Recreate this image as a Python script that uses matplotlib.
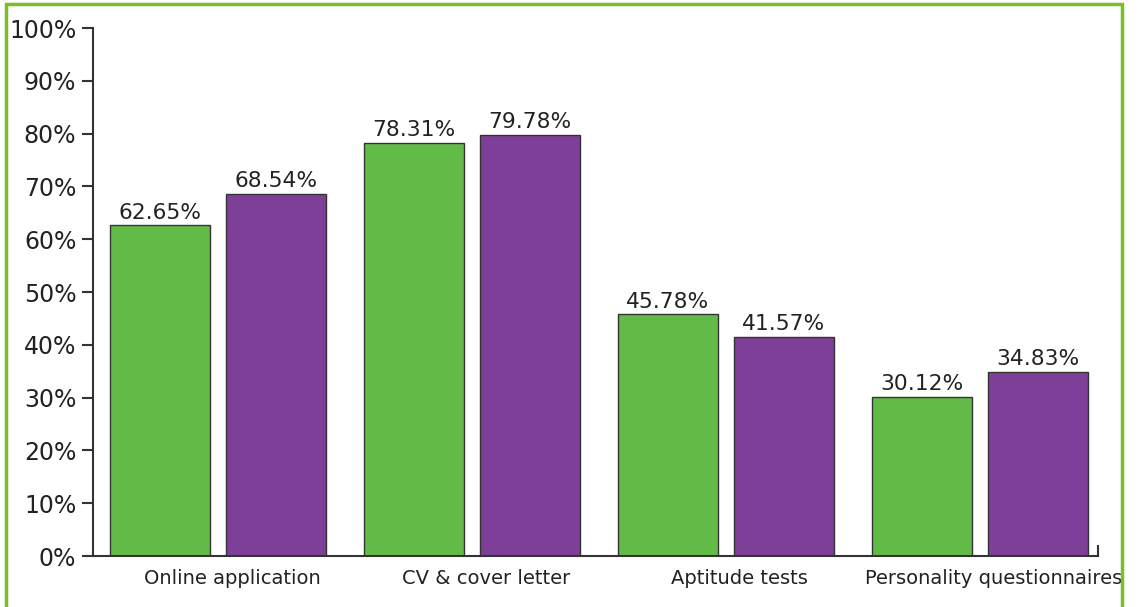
import matplotlib
matplotlib.use('Agg')
import matplotlib.pyplot as plt
import matplotlib.patches as patches
import numpy as np

categories = ['Online application', 'CV & cover letter', 'Aptitude tests', 'Personality questionnaires']
green_vals = [62.65, 78.31, 45.78, 30.12]
purple_vals = [68.54, 79.78, 41.57, 34.83]
yticks = [0, 10, 20, 30, 40, 50, 60, 70, 80, 90, 100]

GREEN = '#62bb46'
PURPLE = '#7e3f98'
FRAME = '#78bf2a'
DARK = '#333333'

fig = plt.figure(figsize=(11.42, 6.07), dpi=100)
ax = fig.add_axes([93/1142, 51/607, (1098-93)/1142, (556-28)/607])

x = np.arange(len(categories))
w = 0.394
off = 0.228
b1 = ax.bar(x - off, green_vals, w, color=GREEN, edgecolor=DARK, linewidth=1)
b2 = ax.bar(x + off, purple_vals, w, color=PURPLE, edgecolor=DARK, linewidth=1)

for bars, vals in ((b1, green_vals), (b2, purple_vals)):
    for r, v in zip(bars, vals):
        ax.text(r.get_x() + r.get_width()/2, v + 0.5, '{:.2f}%'.format(v),
                ha='center', va='bottom', fontsize=15.7, color='#222222')

ax.set_ylim(0, 100)
ax.set_xlim(-0.492, 3.465)
ax.set_yticks(yticks)
ax.set_yticklabels(['{}%'.format(t) for t in yticks], fontsize=17, color='#222222')
ax.tick_params(axis='y', length=8, width=1.5, color=DARK, pad=4)

ax.set_xticks(x + 0.055)
ax.set_xticklabels(categories, fontsize=14, color='#222222')
ax.tick_params(axis='x', length=0, pad=9)
ax.set_xticks([3.465], minor=True)
ax.tick_params(axis='x', which='minor', direction='in', length=8, width=1.5, color=DARK)

for s in ['top', 'right']:
    ax.spines[s].set_visible(False)
for s in ['left', 'bottom']:
    ax.spines[s].set_color(DARK)
    ax.spines[s].set_linewidth(1.5)

# green frame around the chart (open at the bottom)
frame = patches.Rectangle((6/1142, -0.1), (1122-6)/1142, 1.1 - 4/607,
                          transform=fig.transFigure, fill=False,
                          edgecolor=FRAME, linewidth=2.5, clip_on=False)
fig.patches.append(frame)

fig.savefig('out.png', dpi=100)
